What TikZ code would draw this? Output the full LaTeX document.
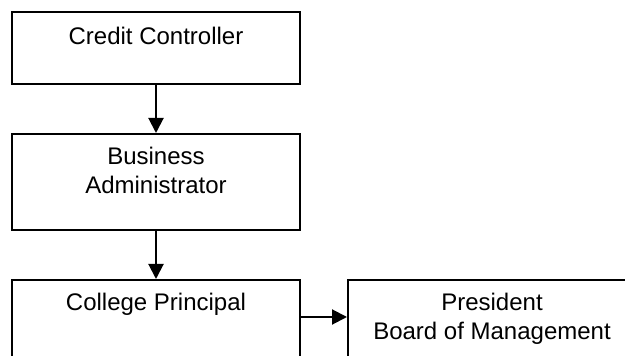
\documentclass[tikz,border=0pt]{standalone}
\usepackage{fontspec}
\setmainfont{Liberation Sans}
\usetikzlibrary{positioning, arrows.meta}
\begin{document}
\begin{tikzpicture}
[box/.style={rectangle, draw=black, line width=1pt, minimum width=144pt, inner sep=0pt},
small box/.style={box, minimum height=36pt},
tall box/.style={box, minimum height=48pt},
txt/.style={inner sep=0pt, anchor=base, align=center, font=\fontsize{12pt}{14.5pt}\selectfont},
arr/.style={line width=1pt, -{Triangle[width=7.5pt, length=7.5pt]}}]

\clip (0,0) rectangle (312.5pt,-178pt);

\node (cc) [small box, anchor=north west] at (5.5pt,-5.5pt) {};
\node (ba) [tall box, below = 24pt of cc] {};
\node (cp) [tall box, below = 24pt of ba] {};
\node (pb) [tall box, right = 23pt of cp] {};

\node (cc text) [txt] at ([yshift=-17pt]cc.north) {Credit Controller};
\node (ba text) [txt] at ([yshift=-30.5pt]ba.north) {Business\\Administrator};
\node (cp text) [txt] at ([yshift=-16pt]cp.north) {College Principal};
\node (pb text) [txt] at ([yshift=-30.5pt]pb.north) {President\\Board of Management};

\draw[arr] (cc) -- (ba);
\draw[arr] (ba) -- (cp);
\draw[arr] ([yshift=-19pt]cp.north east) -- ([yshift=-19pt]pb.north west);
\end{tikzpicture}
\end{document}
